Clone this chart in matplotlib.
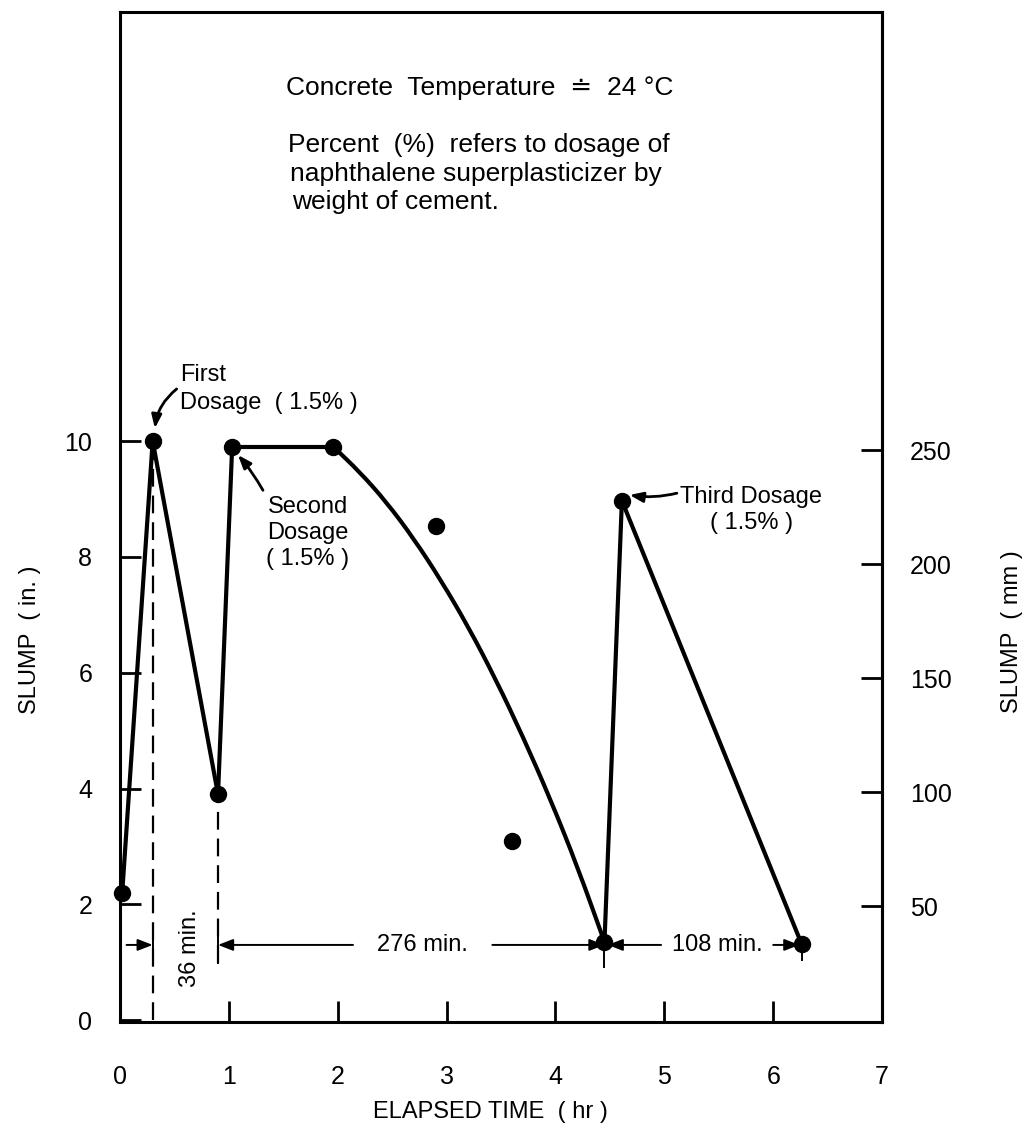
import matplotlib
matplotlib.use("Agg")
import matplotlib.pyplot as plt
from matplotlib.path import Path
from matplotlib.patches import PathPatch

plt.rcParams['font.family'] = ['Liberation Sans', 'DejaVu Sans']

# Slump measurements (time in hours, slump in inches)
times = [0.02, 0.30, 0.90, 1.03, 1.96, 4.45, 4.61, 6.26]
slump = [2.2, 10.0, 3.9, 9.9, 9.9, 1.35, 8.97, 1.32]

# Scattered readings
off_times = [2.90, 3.60]
off_slump = [8.53, 3.10]

# Fitted slump-loss curve after the second dosage
curve_times = [1.96, 2.20, 2.45, 2.70, 2.95, 3.20, 3.45, 3.70, 3.95, 4.20, 4.45]
curve_slump = [9.90, 9.47, 8.94, 8.31, 7.59, 6.79, 5.89, 4.90, 3.83, 2.66, 1.35]

x_ticks = [0, 1, 2, 3, 4, 5, 6, 7]
y_ticks_in = [0, 2, 4, 6, 8, 10]
y_ticks_mm = [50, 100, 150, 200, 250]

FS = 18
LW = 3.0

fig = plt.figure(figsize=(10.33, 11.35), dpi=100)
ax = fig.add_axes([0.1162, 0.0996, 0.7377, 0.8899])
ax.set_xlim(0, 7)
ax.set_ylim(-0.03, 17.41)

for s in ax.spines.values():
    s.set_linewidth(2.2)

# Main slump path: straight segments
seg_idx = [(0, 1), (1, 2), (2, 3), (3, 4), (5, 6), (6, 7)]
for a, b in seg_idx:
    ax.plot([times[a], times[b]], [slump[a], slump[b]], color='black',
            lw=LW, solid_capstyle='round', clip_on=False)

# Smooth fitted curve (quadratic Bezier through midpoints)
pts = list(zip(curve_times, curve_slump))
verts = [pts[0]]
codes = [Path.MOVETO]
mid0 = ((pts[0][0] + pts[1][0]) / 2, (pts[0][1] + pts[1][1]) / 2)
verts.append(mid0)
codes.append(Path.LINETO)
for i in range(1, len(pts) - 1):
    nxt = pts[i + 1]
    mid = ((pts[i][0] + nxt[0]) / 2, (pts[i][1] + nxt[1]) / 2)
    verts += [pts[i], mid]
    codes += [Path.CURVE3, Path.CURVE3]
verts.append(pts[-1])
codes.append(Path.LINETO)
ax.add_patch(PathPatch(Path(verts, codes), fill=False, edgecolor='black',
                       lw=LW, capstyle='round', joinstyle='round'))

ax.plot(times, slump, 'o', color='black', ms=11.5, clip_on=False, zorder=5)
ax.plot(off_times, off_slump, 'o', color='black', ms=11.5, zorder=5)

# Dosage time markers (dashed)
dash_bottom = 0.98
ax.plot([times[1], times[1]], [0, slump[1]], color='black', lw=1.6,
        dashes=(8, 4))
ax.plot([times[2], times[2]], [dash_bottom, slump[2]], color='black', lw=1.6,
        dashes=(8, 4))

# Interval dimension lines
dim_y = 1.30
line_kw = dict(color='black', lw=1.4)
arrow_kw = dict(arrowstyle='-|>,head_length=0.9,head_width=0.35',
                color='black', lw=1.4, shrinkA=0, shrinkB=0)


def arrow(x_from, x_to):
    ax.annotate('', xy=(x_to, dim_y), xytext=(x_from, dim_y),
                arrowprops=arrow_kw)


# crossing ticks
for t in (times[1], times[2]):
    ax.plot([t, t], [0.98, 1.55], **line_kw)
ax.plot([times[5], times[5]], [0.92, slump[5]], **line_kw)
ax.plot([times[7], times[7]], [1.04, slump[7]], **line_kw)

arrow(0.06, times[1])
arrow(2.14, times[2])
arrow(3.42, times[5])
arrow(4.97, times[5] + 0.03)
arrow(6.00, times[7] - 0.02)

dim_fs = 17
ax.text((times[1] + times[2]) / 2 + 0.04, 1.24, '36 min.', rotation=90,
        ha='center', va='center', fontsize=dim_fs)
ax.text(2.78, dim_y, '276 min.', ha='center', va='center', fontsize=dim_fs)
ax.text(5.49, dim_y, '108 min.', ha='center', va='center', fontsize=dim_fs)

# Dosage annotations
ann_fs = 17
ax.text(0.55, 10.46, 'First\nDosage  ( 1.5% )', ha='left', va='bottom',
        fontsize=ann_fs, linespacing=1.4)
ax.annotate('', xy=(times[1] + 0.02, slump[1] + 0.22), xytext=(0.52, 10.90),
            arrowprops=dict(arrowstyle='-|>,head_length=0.8,head_width=0.3',
                            color='black', lw=2.0,
                            connectionstyle='arc3,rad=0.2',
                            shrinkA=0, shrinkB=0))

ax.text(1.726, 8.41, 'Second\nDosage\n( 1.5% )', ha='center', va='center',
        multialignment='center', fontsize=ann_fs, linespacing=1.25)
ax.annotate('', xy=(1.083, 9.76), xytext=(1.313, 9.15),
            arrowprops=dict(arrowstyle='-|>,head_length=0.8,head_width=0.3',
                            color='black', lw=2.0,
                            connectionstyle='arc3,rad=0.05',
                            shrinkA=0, shrinkB=0))

ax.text(5.80, 8.81, 'Third Dosage\n( 1.5% )', ha='center', va='center',
        multialignment='center', fontsize=ann_fs, linespacing=1.2)
ax.annotate('', xy=(4.68, 9.07), xytext=(5.115, 9.10),
            arrowprops=dict(arrowstyle='-|>,head_length=0.8,head_width=0.3',
                            color='black', lw=2.0,
                            connectionstyle='arc3,rad=-0.1',
                            shrinkA=0, shrinkB=0))

# Test conditions note
note_fs = 19
ax.text(3.30, 16.10, 'Concrete  Temperature  \u2250  24 \u00b0C', ha='center',
        va='center', fontsize=note_fs)
ax.text(1.54, 15.11, 'Percent  (%)  refers to dosage of', ha='left',
        va='center', fontsize=note_fs)
ax.text(1.56, 14.62, 'naphthalene superplasticizer by', ha='left',
        va='center', fontsize=note_fs)
ax.text(1.58, 14.13, 'weight of cement.', ha='left', va='center',
        fontsize=note_fs)

# Axes, ticks and labels
ax.set_xticks(x_ticks)
ax.set_yticks(y_ticks_in)
ax.tick_params(axis='both', direction='in', length=15, width=2.0,
               labelsize=FS)
ax.tick_params(axis='x', pad=31)
ax.tick_params(axis='y', pad=20)
ax.yaxis.set_ticks_position('left')
ax.xaxis.set_ticks_position('bottom')

sec = ax.secondary_yaxis('right', functions=(lambda v: v * 25.4,
                                              lambda v: v / 25.4))
sec.set_yticks(y_ticks_mm)
sec.tick_params(direction='in', length=15, width=2.0, labelsize=FS, pad=20)
sec.spines['right'].set_linewidth(2.2)

fig.text(1012 / 1033, 1 - 632 / 1135, 'SLUMP  ( mm )', rotation=90,
         ha='center', va='center', fontsize=FS - 1)

ax.set_ylabel('SLUMP  ( in. )', fontsize=FS - 1)
ax.yaxis.set_label_coords(-0.104, 0.378)
ax.set_xlabel('ELAPSED TIME  ( hr )', fontsize=FS - 1)
ax.xaxis.set_label_coords(0.486, -0.078)

fig.savefig('out.png', dpi=100)
